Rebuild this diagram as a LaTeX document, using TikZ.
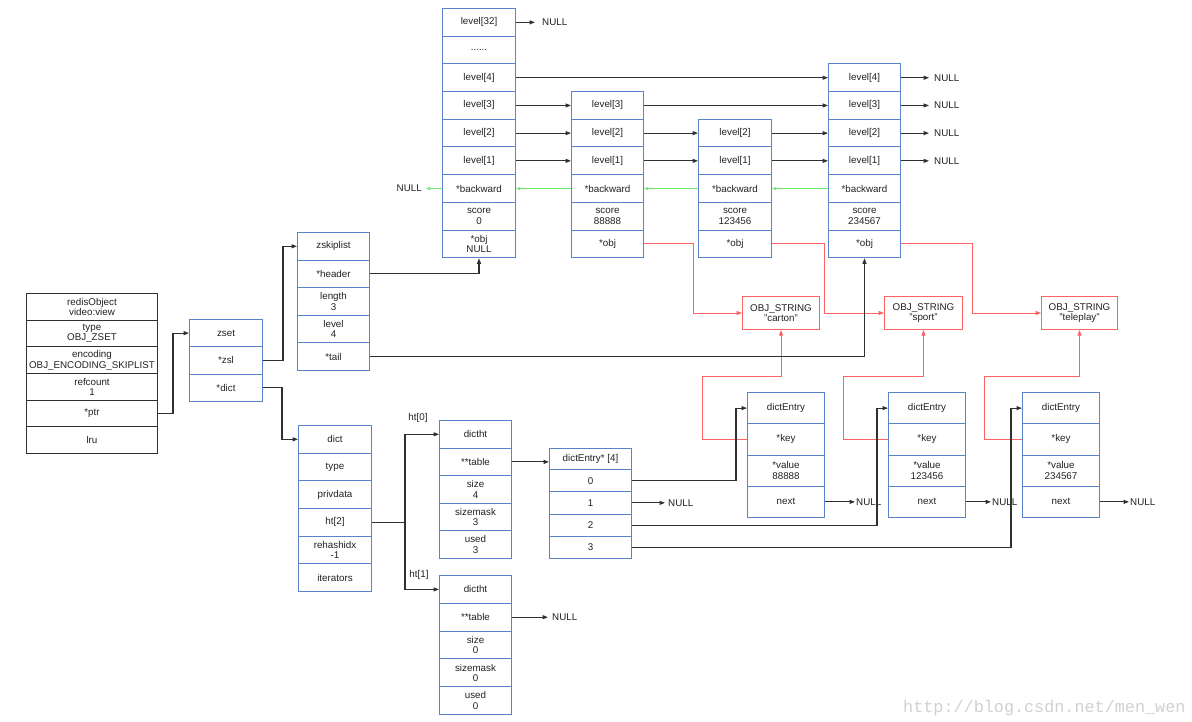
\documentclass[tikz,border=0pt]{standalone}
\usepackage{fontspec}
\setmainfont{Liberation Sans}
\newfontfamily\wmfont{Liberation Mono}
\usetikzlibrary{arrows.meta}
\definecolor{bluec}{HTML}{5A82C8}
\definecolor{redc}{HTML}{FF6262}
\definecolor{greenc}{HTML}{6FEF6F}
\definecolor{txtc}{HTML}{222222}
\definecolor{linec}{HTML}{303030}
\newcommand\cellfont{\fontsize{9.8}{10.6}\selectfont}
\begin{document}
\begin{tikzpicture}[x=1pt,y=-1pt,
  cell/.style={draw=bluec, line width=1pt, inner sep=0pt, align=center, anchor=north west, font=\cellfont, text=txtc},
  bcell/.style={cell, draw=linec},
  rcell/.style={cell, draw=redc},
  sk/.style={cell, minimum width=#1, minimum height=27.7pt},
  lbl/.style={inner sep=0pt, font=\cellfont, text=txtc},
  arr/.style={draw=linec, line width=1.1pt, -{Triangle[length=5.5pt,width=4pt]}},
  rarr/.style={draw=redc, line width=1pt, -{Triangle[length=5.5pt,width=4pt]}},
  garr/.style={draw=greenc, line width=1pt, -{Triangle[length=4pt,width=3pt]}}]
\fill[white] (0,0) rectangle (1192,722);
\useasboundingbox (0,0) rectangle (1192,722);

% ---------- redisObject
\begin{scope}[every node/.style={bcell, minimum width=131pt, minimum height=26.67pt}]
\node (r0) at (26,293) {redisObject\\video:view};
\node (r1) at (26,319.67) {type\\OBJ\_ZSET};
\node (r2) at (26,346.33) {encoding\\OBJ\_ENCODING\_SKIPLIST};
\node (r3) at (26,373) {refcount\\1};
\node (r4) at (26,399.67) {*ptr};
\node (r5) at (26,426.33) {lru};
\end{scope}

% ---------- zset
\begin{scope}[every node/.style={cell, minimum width=73pt, minimum height=27.3pt}]
\node (z0) at (189,319) {zset};
\node (z1) at (189,346.3) {*zsl};
\node (z2) at (189,373.6) {*dict};
\end{scope}

% ---------- zskiplist
\begin{scope}[every node/.style={cell, minimum width=72pt, minimum height=27.6pt}]
\node (k0) at (297,232) {zskiplist};
\node (k1) at (297,259.6) {*header};
\node (k2) at (297,287.2) {length\\3};
\node (k3) at (297,314.8) {level\\4};
\node (k4) at (297,342.4) {*tail};
\end{scope}

% ---------- skiplist header node
\begin{scope}[every node/.style={sk=73pt}]
\node (h32) at (442,8) {level[32]};
\node (hd) at (442,35.7) {......};
\node (h4) at (442,63.4) {level[4]};
\node (h3) at (442,91.1) {level[3]};
\node (h2) at (442,118.8) {level[2]};
\node (h1) at (442,146.5) {level[1]};
\node (hb) at (442,174.2) {*backward};
\node (hs) at (442,201.9) {score\\0};
\node (ho) at (442,229.6) {*obj\\NULL};
\end{scope}
% node A
\begin{scope}[every node/.style={sk=72pt}]
\node (a3) at (571,91.1) {level[3]};
\node (a2) at (571,118.8) {level[2]};
\node (a1) at (571,146.5) {level[1]};
\node (ab) at (571,174.2) {*backward};
\node (as) at (571,201.9) {score\\88888};
\node (ao) at (571,229.6) {*obj};
\end{scope}
% node B
\begin{scope}[every node/.style={sk=73pt}]
\node (b2) at (698,118.8) {level[2]};
\node (b1) at (698,146.5) {level[1]};
\node (bb) at (698,174.2) {*backward};
\node (bs) at (698,201.9) {score\\123456};
\node (bo) at (698,229.6) {*obj};
\end{scope}
% node C
\begin{scope}[every node/.style={sk=72pt}]
\node (c4) at (828,63.4) {level[4]};
\node (c3) at (828,91.1) {level[3]};
\node (c2) at (828,118.8) {level[2]};
\node (c1) at (828,146.5) {level[1]};
\node (cb) at (828,174.2) {*backward};
\node (cs) at (828,201.9) {score\\234567};
\node (co) at (828,229.6) {*obj};
\end{scope}

% ---------- OBJ_STRING
\begin{scope}[every node/.style={rcell, minimum height=33pt}]
\node[minimum width=77pt] (s1) at (742,296) {OBJ\_STRING\\"carton"};
\node[minimum width=78pt] (s2) at (884,296) {OBJ\_STRING\\"sport"};
\node[minimum width=76pt] (s3) at (1041,296) {OBJ\_STRING\\"teleplay"};
\end{scope}

% ---------- dict
\begin{scope}[every node/.style={cell, minimum width=73pt, minimum height=27.67pt}]
\node (d0) at (298,425) {dict};
\node (d1) at (298,452.67) {type};
\node (d2) at (298,480.33) {privdata};
\node (d3) at (298,508) {ht[2]};
\node (d4) at (298,535.67) {rehashidx\\-1};
\node (d5) at (298,563.33) {iterators};
\end{scope}

% ---------- dictht 0
\begin{scope}[every node/.style={cell, minimum width=72pt, minimum height=27.6pt}]
\node (t0) at (439,420) {dictht};
\node (t1) at (439,447.6) {**table};
\node (t2) at (439,475.2) {size\\4};
\node (t3) at (439,502.8) {sizemask\\3};
\node (t4) at (439,530.4) {used\\3};
\end{scope}
% ---------- dictht 1
\begin{scope}[every node/.style={cell, minimum width=72pt, minimum height=27.8pt}]
\node (u0) at (439,575) {dictht};
\node (u1) at (439,602.8) {**table};
\node (u2) at (439,630.6) {size\\0};
\node (u3) at (439,658.4) {sizemask\\0};
\node (u4) at (439,686.2) {used\\0};
\end{scope}

% ---------- dictEntry* [4]
\begin{scope}[every node/.style={cell, minimum width=82pt, minimum height=22.25pt}]
\node[minimum height=21pt] (e) at (549,448) {dictEntry* [4]};
\node (e0) at (549,469) {0};
\node (e1) at (549,491.25) {1};
\node (e2) at (549,513.5) {2};
\node (e3) at (549,535.75) {3};
\end{scope}

% ---------- dictEntry nodes
\begin{scope}[every node/.style={cell, minimum width=77pt, minimum height=31.25pt}]
\node (f0) at (747,392) {dictEntry};
\node (f1) at (747,423.25) {*key};
\node (f2) at (747,454.5) {*value\\88888};
\node (f3) at (747,485.75) {next};
\node (g0) at (888,392) {dictEntry};
\node (g1) at (888,423.25) {*key};
\node (g2) at (888,454.5) {*value\\123456};
\node (g3) at (888,485.75) {next};
\node (m0) at (1022,392) {dictEntry};
\node (m1) at (1022,423.25) {*key};
\node (m2) at (1022,454.5) {*value\\234567};
\node (m3) at (1022,485.75) {next};
\end{scope}

% ---------- NULL labels
\node[lbl, anchor=west] (n32) at ([xshift=26pt]h32.east) {NULL};
\node[lbl, anchor=west] (nc4) at ([xshift=33pt]c4.east) {NULL};
\node[lbl, anchor=west] (nc3) at ([xshift=33pt]c3.east) {NULL};
\node[lbl, anchor=west] (nc2) at ([xshift=33pt]c2.east) {NULL};
\node[lbl, anchor=west] (nc1) at ([xshift=33pt]c1.east) {NULL};
\node[lbl, anchor=east] (nhb) at ([xshift=-20pt]hb.west) {NULL};
\node[lbl, anchor=west] (nu1) at ([xshift=40pt]u1.east) {NULL};
\node[lbl, anchor=west] (ne1) at ([xshift=36pt]e1.east) {NULL};
\node[lbl, anchor=west] (nf) at ([xshift=31pt]f3.east) {NULL};
\node[lbl, anchor=west] (ng) at ([xshift=26pt]g3.east) {NULL};
\node[lbl, anchor=west] (nm) at ([xshift=30pt]m3.east) {NULL};
\node[lbl] (ht0) at (418,418) {ht[0]};
\node[lbl] (ht1) at (419,575) {ht[1]};

% ---------- red connectors
\draw[rarr] (ao.east) -- ++(49,0) |- (s1.west);
\draw[rarr] (bo.east) -- ++(52,0) |- (s2.west);
\draw[rarr] (co.east) -- ++(71,0) |- (s3.west);
\draw[rarr] (f1.west) -| (702,376) -| (s1.south);
\draw[rarr] (g1.west) -| (843,376) -| (s2.south);
\draw[rarr] (m1.west) -| (984,376) -| (s3.south);

% ---------- black connectors
\draw[arr] (r4.east) -- ++(15,0) |- (z0.west);
\draw[arr] (z1.east) -- ++(20,0) |- (k0.west);
\draw[arr] (z2.east) -- ++(19,0) |- (d0.west);
\draw[arr] (k1.east) -| (ho.south);
\draw[arr] (k4.east) -| (co.south);
\draw[arr] (d3.east) -- ++(33,0) |- (t0.west);
\draw[arr] (d3.east) -- ++(33,0) |- (u0.west);
\draw[arr] (t1.east) -- (t1.east -| e.west);
\draw[arr] (u1.east) -- ([xshift=-4pt]nu1.west);
\draw[arr] (e0.east) -- ++(104,0) |- (f0.west);
\draw[arr] (e1.east) -- ([xshift=-3pt]ne1.west);
\draw[arr] (e2.east) -- ++(245,0) |- (g0.west);
\draw[arr] (e3.east) -- ++(379,0) |- (m0.west);
\draw[arr] (f3.east) -- ([xshift=-1pt]nf.west);
\draw[arr] (g3.east) -- ([xshift=-1pt]ng.west);
\draw[arr] (m3.east) -- ([xshift=-1pt]nm.west);

% skiplist forward pointers
\draw[arr] (h32.east) -- ([xshift=-7pt]n32.west);
\draw[arr] (h4.east) -- (c4.west);
\draw[arr] (h3.east) -- (a3.west);
\draw[arr] (a3.east) -- (c3.west);
\draw[arr] (h2.east) -- (a2.west);
\draw[arr] (a2.east) -- (b2.west);
\draw[arr] (b2.east) -- (c2.west);
\draw[arr] (h1.east) -- (a1.west);
\draw[arr] (a1.east) -- (b1.west);
\draw[arr] (b1.east) -- (c1.west);
\draw[arr] (c4.east) -- ([xshift=-5pt]nc4.west);
\draw[arr] (c3.east) -- ([xshift=-5pt]nc3.west);
\draw[arr] (c2.east) -- ([xshift=-5pt]nc2.west);
\draw[arr] (c1.east) -- ([xshift=-5pt]nc1.west);

% backward pointers
\draw[garr] (cb.west) -- (bb.east);
\draw[garr] (bb.west) -- (ab.east);
\draw[garr] (ab.west) -- (hb.east);
\draw[garr] (hb.west) -- ([xshift=4pt]nhb.east);

% watermark
\node[anchor=west, inner sep=0pt, font=\wmfont\fontsize{16.8}{18}\selectfont, text=black!18] (wm) at (903,708) {http://blog.csdn.net/men\_wen};
\end{tikzpicture}
\end{document}
